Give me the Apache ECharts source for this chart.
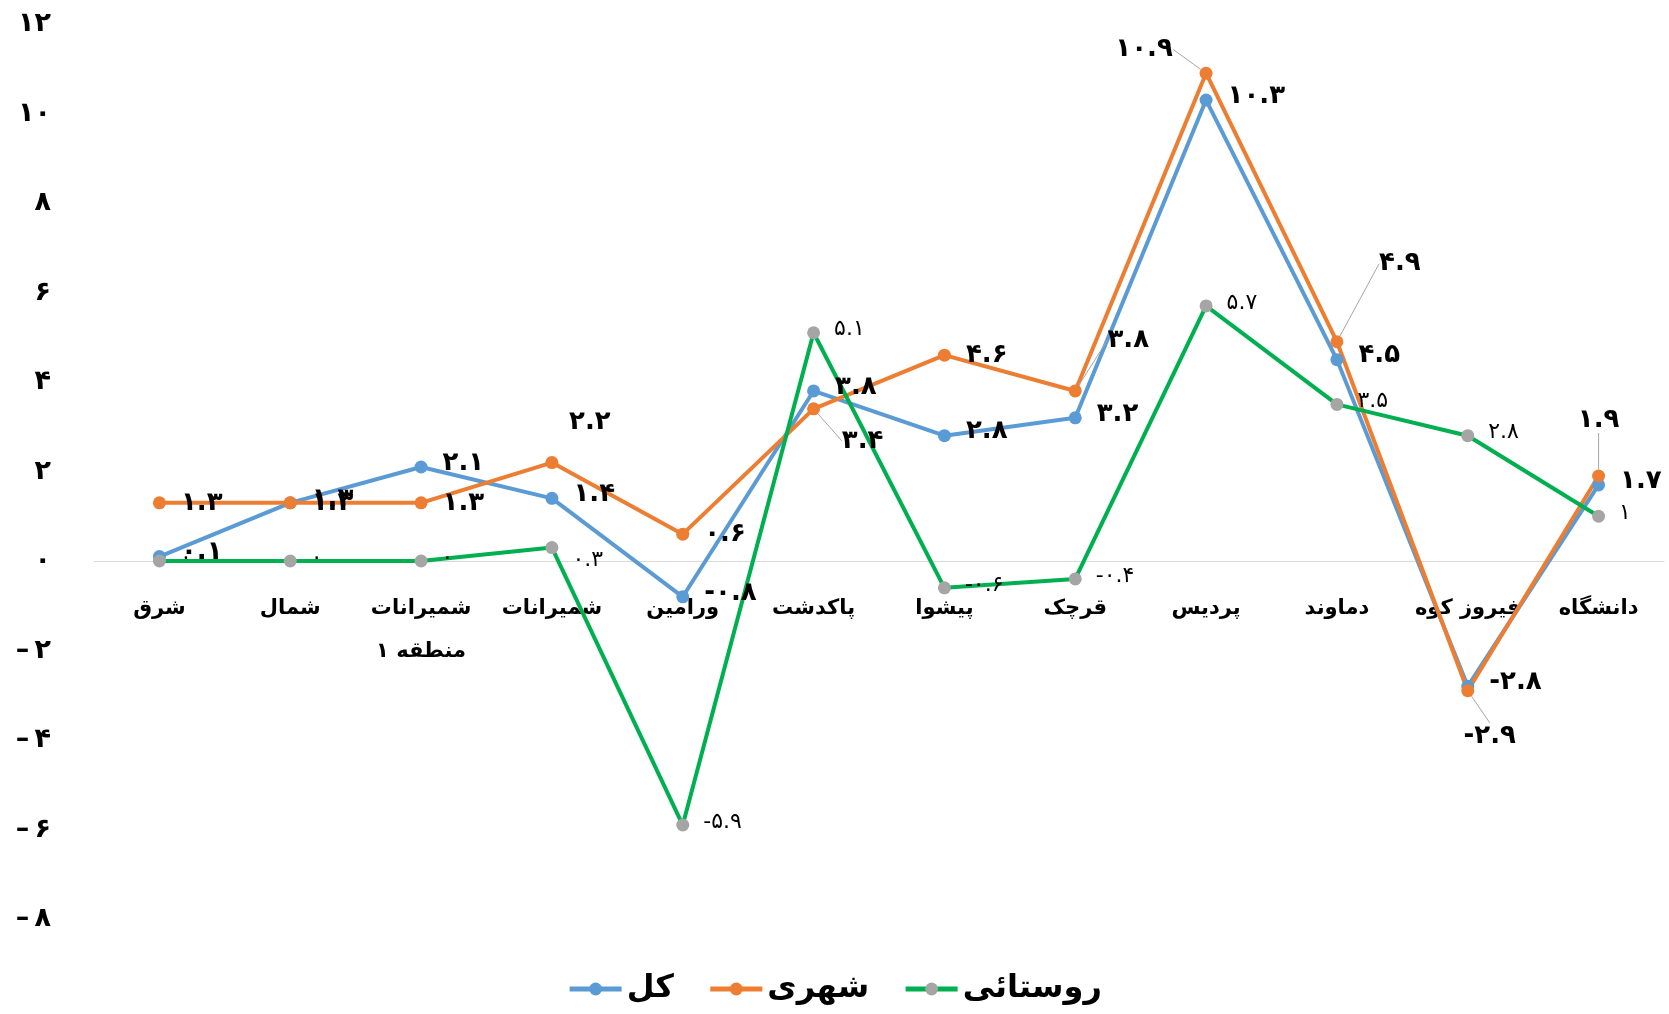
<!DOCTYPE html>
<html><head><meta charset="utf-8">
<script src="https://cdn.jsdelivr.net/npm/echarts@6/dist/echarts.min.js"></script>
<style>html,body{margin:0;padding:0;background:#fff}#c{width:1669px;height:1014px}</style>
</head><body><div id="c"></div>
<script>
// ---- data ----
const categories = ['شرق','شمال','شمیرانات\n۱ منطقه','شمیرانات','ورامین','پاکدشت','پیشوا','قرچک','پردیس','دماوند','فیروز کوه','دانشگاه'];
const seriesNames = ['کل','شهری','روستائی'];
const totalValues = [0.1,1.3,2.1,1.4,-0.8,3.8,2.8,3.2,10.3,4.5,-2.8,1.7];
const urbanValues = [1.3,1.3,1.3,2.2,0.6,3.4,4.6,3.8,10.9,4.9,-2.9,1.9];
const ruralValues = [0,0,0,0.3,-5.9,5.1,-0.6,-0.4,5.7,3.5,2.8,1];
const yMin = -8, yMax = 12, yInterval = 2;

// ---- layout / label placement (style only) ----
const GRID = {left:94, right:5, top:24, bottom:95};
const H = 1014;
const zeroOffset = -((H - GRID.top - GRID.bottom) * (0 - yMin) / (yMax - yMin));
const urbanMoves = {3:[38,-40,false],5:[49,32,true],7:[53,-51,true],8:[-62,-24,true],9:[63,-78,true],10:[22,45,true],11:[0,-56,true]};
const ruralOffsets = {3:[0,13]};

const FA = '۰۱۲۳۴۵۶۷۸۹';
function toFa(v){
  const s = String(Math.abs(v)).replace(/\d/g, d => FA[d]);
  return v < 0 ? '-' + s : s;
}
const FONT = 'DejaVu Sans';
const colors = ['#5B9BD5','#ED7D31','#00B050'];

const boldLabel = {show:true, position:'right', distance:15, offset:[0,-4], color:'#000', fontFamily:FONT, fontWeight:'bold', fontSize:26, formatter:p=>toFa(p.value)};
const lightLabel = {show:true, position:'right', distance:14, offset:[0,-3], color:'#000', fontFamily:FONT, fontWeight:'normal', fontSize:22, formatter:p=>toFa(p.value)};

function makeData(values, moves, offsets){
  return values.map((v,i)=>{
    const d = {value:v};
    if (moves && moves[i]) {
      d.label = {position:'inside', offset:[0,0]};
      d.labelLine = {show: moves[i][2]};
    } else if (offsets && offsets[i]) {
      d.label = {offset: offsets[i]};
    }
    return d;
  });
}

const chart = echarts.init(document.getElementById('c'), null, {renderer:'canvas'});
chart.setOption({
  animation:false,
  backgroundColor:'#fff',
  grid:Object.assign({containLabel:false, outerBoundsMode:'none'}, GRID),
  legend:{
    bottom:4, left:'center', itemWidth:52, itemHeight:16, itemGap:34,
    lineStyle:{width:5},
    textStyle:{fontFamily:FONT, fontWeight:'bold', fontSize:32, color:'#000'},
    data:seriesNames
  },
  xAxis:{
    type:'category', data:categories, boundaryGap:true, position:'bottom', offset:zeroOffset,
    axisLine:{onZero:false, lineStyle:{color:'#d9d9d9', width:1}},
    axisTick:{show:false},
    axisLabel:{interval:0, margin:26, color:'#000', fontFamily:FONT, fontWeight:'bold', fontSize:21, lineHeight:43}
  },
  yAxis:{
    type:'value', min:yMin, max:yMax, interval:yInterval,
    axisLine:{show:false}, axisTick:{show:false}, splitLine:{show:false},
    axisLabel:{margin:43, color:'#000', fontFamily:FONT, fontWeight:'bold', fontSize:27,
      formatter:v => v < 0 ? '–\u2009' + toFa(-v) : toFa(v)}
  },
  series:[
    {name:seriesNames[0], type:'line', data:makeData(totalValues), symbol:'circle', symbolSize:13,
     lineStyle:{color:colors[0], width:4}, itemStyle:{color:colors[0]}, label:boldLabel},
    {name:seriesNames[1], type:'line', data:makeData(urbanValues, urbanMoves), symbol:'circle', symbolSize:13,
     lineStyle:{color:colors[1], width:4}, itemStyle:{color:colors[1]}, label:boldLabel,
     labelLine:{show:false, lineStyle:{color:'#a6a6a6', width:1}},
     labelLayout:function(p){ const m = urbanMoves[p.dataIndex]; return m ? {dx:m[0], dy:m[1]} : {}; }},
    {name:seriesNames[2], type:'line', data:makeData(ruralValues, null, ruralOffsets), symbol:'circle', symbolSize:13,
     lineStyle:{color:colors[2], width:4}, itemStyle:{color:'#A5A5A5'}, label:lightLabel}
  ]
});
</script></body></html>
